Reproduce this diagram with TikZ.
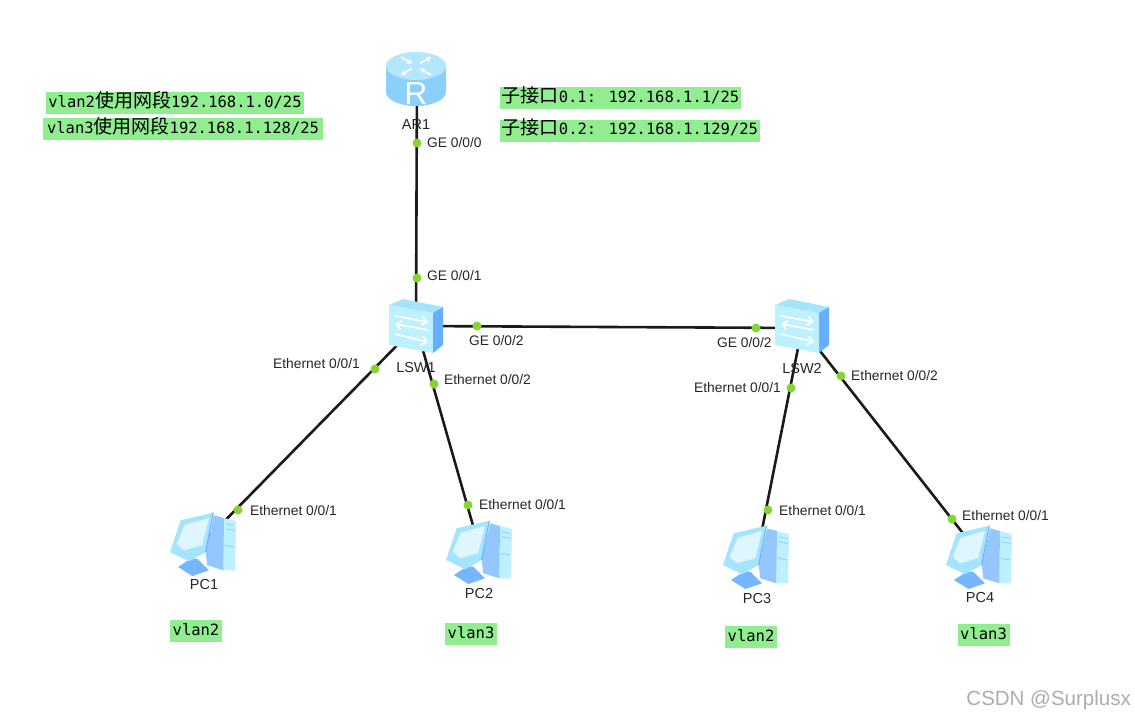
\documentclass[tikz,border=0pt]{standalone}
\usepackage{fontspec}
\setmainfont{Liberation Sans}
\newfontfamily\monofont{DejaVu Sans Mono}
\newfontfamily\cjk{Noto Sans CJK SC}
\usetikzlibrary{arrows.meta,positioning}
\definecolor{hlgreen}{HTML}{90EE90}
\definecolor{portgreen}{HTML}{84D62E}
\definecolor{linkblack}{HTML}{1A1A1A}
\definecolor{iconfront}{HTML}{BDF1FF}
\definecolor{icontop}{HTML}{A5E4FF}
\definecolor{iconside}{HTML}{66AFFF}
\definecolor{routerbody}{HTML}{8AD0FB}
\definecolor{routertop}{HTML}{B5E6FF}
\tikzset{
  link/.style={draw=linkblack, line width=2.6pt},
  port/.style={circle, fill=portgreen, inner sep=0pt, minimum size=9pt},
  portlabel/.style={anchor=west, inner sep=0pt, text=black!85, font=\fontsize{13.8}{15}\selectfont},
  devlabel/.style={inner sep=0pt, text=black!85, font=\fontsize{14.5}{16}\selectfont},
  hlbox/.style={fill=hlgreen, inner sep=0pt, minimum height=22pt, text height=8pt, text depth=0pt,
    font=\monofont\fontsize{15.5}{18}\selectfont},
  routericon/.pic={
    \path[fill=routerbody] (-30,-12) -- (-30,14) arc[start angle=180, end angle=0, x radius=30, y radius=14]
      -- (30,-12) -- cycle;
    \path[fill=routertop] (0,-12) ellipse[x radius=30, y radius=14];
    \foreach \ax/\ay/\bx/\by in {4/-14.5/15/-21, -4/-9.5/-15/-3, -15/-21/-4/-14.5, 15/-3/4/-9.5} {
      \draw[white, line width=1.6pt, -{Stealth[length=5pt,width=6pt]}] (\ax,\ay) -- (\bx,\by);
    }
    \node[inner sep=0pt, text=white, font=\fontsize{32}{32}\selectfont] (rletter) at (0,15) {R};
  },
  switchicon/.pic={
    \path[fill=iconfront] (-27,-21) -- (17,-13) -- (17,27) -- (-27,19) -- cycle;
    \path[fill=icontop] (-27,-21) -- (-13,-27) -- (27,-19) -- (17,-13) -- cycle;
    \path[fill=iconside] (17,-13) -- (27,-19) -- (27,19) -- (17,27) -- cycle;
    \draw[white, line width=1.8pt, -{Straight Barb[length=5pt,width=9pt]}] (-21,-10) -- (12,-4);
    \draw[white, line width=1.8pt, -{Straight Barb[length=5pt,width=9pt]}] (12,4) -- (-21,-2);
    \draw[white, line width=1.8pt, -{Straight Barb[length=5pt,width=9pt]}] (-21,8) -- (12,16);
  },
  pcicon/.pic={
    \path[fill=iconfront] (20,-24) -- (32,-21) -- (31,28.3) -- (19.3,28.3) -- cycle;
    \path[fill=iconside!70] (10,-26.7) -- (20,-24) -- (19.3,28.3) -- (3.3,23.3) -- (1.7,10) -- cycle;
    \path[fill=iconside!90] (-26,25) -- (-13.3,16.7) -- (-6.7,16.7) -- (5,28.3) -- (-11.7,34) -- cycle;
    \path[fill=icontop] (-34,10) -- (-23.3,-21.7) -- (9.3,-29.3) -- (1.7,10) -- (-15,19.3) -- cycle;
    \path[fill=white!65!icontop] (-27.3,1.7) -- (-19.3,-17.3) -- (5,-24) -- (-1.7,3.3) -- (-20,8.3) -- cycle;
    \draw[iconside, line width=1pt] (9.3,-29.3) -- (1.7,10);
    \draw[iconside!70, line width=0.8pt] (21.7,-18.3) -- (30,-16.5) (21.7,-13.3) -- (30,-11.5) (21,3.3) -- (30,5);
  }
}
\begin{document}
\begin{tikzpicture}[x=1pt, y=-1pt]
  \useasboundingbox[fill=white] (0,0) rectangle (1135,720);
  \coordinate (ar1) at (417,78);
  \coordinate (lsw1) at (416,326);
  \coordinate (lsw2) at (802,328);
  \coordinate (pc1) at (204,542);
  \coordinate (pc2) at (480,550);
  \coordinate (pc3) at (757,555);
  \coordinate (pc4) at (980,555);
  % links run under the icons
  \draw[link] (ar1) -- (lsw1);
  \draw[link] (lsw1) -- (lsw2);
  \draw[link] (lsw1) -- (pc1);
  \draw[link] (lsw1) -- (pc2);
  \draw[link] (lsw2) -- (pc3);
  \draw[link] (lsw2) -- (pc4);
  \pic at (416,78) {routericon};
  \pic at (lsw1) {switchicon};
  \pic at (802,326) {switchicon};
  \foreach \p in {pc1,pc2,pc3,pc4} {
    \pic at (\p) {pcicon};
  }
  \foreach \n/\x/\y/\t in {nar1/416/125/AR1,nlsw1/416/368/LSW1,nlsw2/802/369/LSW2,
      npc1/204/585/PC1,npc2/479/594/PC2,npc3/757/599/PC3,npc4/980/598/PC4} {
    \node[devlabel] (\n) at (\x,\y) {\t};
  }
  % ports: dot, then its label
  \foreach \n/\x/\y/\lx/\ly/\t in {
      a/417/143/427/143/{GE 0/0/0},
      b/417/278/427/276/{GE 0/0/1},
      c/477/326/469/341/{GE 0/0/2},
      d/756/328/717/343/{GE 0/0/2},
      e/375/369/273/364/{Ethernet 0/0/1},
      f/434/384/444/380/{Ethernet 0/0/2},
      g/238/510/250/511/{Ethernet 0/0/1},
      h/468/505/479/505/{Ethernet 0/0/1},
      i/791/388/694/388/{Ethernet 0/0/1},
      j/841/376/851/376/{Ethernet 0/0/2},
      k/768/510/779/511/{Ethernet 0/0/1},
      l/952/519/962/516/{Ethernet 0/0/1}} {
    \node[port] (port\n) at (\x,\y) {};
    \node[portlabel] (label\n) at (\lx,\ly) {\t};
  }
  \node[hlbox, minimum width=258pt] (net2) at (175,103) {vlan2{\cjk\fontsize{19}{19}\selectfont 使用网段}192.168.1.0/25};
  \node[hlbox, minimum width=280pt] (net3) at (183,129) {vlan3{\cjk\fontsize{19}{19}\selectfont 使用网段}192.168.1.128/25};
  \node[hlbox, minimum width=241pt] (sub1) at (620.5,98) {{\cjk\fontsize{19}{19}\selectfont 子接口}0.1: 192.168.1.1/25};
  \node[hlbox, minimum width=260pt] (sub2) at (630,130.5) {{\cjk\fontsize{19}{19}\selectfont 子接口}0.2: 192.168.1.129/25};
  \foreach \n/\x/\y/\t in {va/196/631/vlan2,vb/471/634/vlan3,vc/751/637/vlan2,vd/983.5/635/vlan3} {
    \node[hlbox, minimum width=52pt] (\n) at (\x,\y) {\t};
  }
  \node[anchor=east, inner sep=0pt, text=black!32, font=\fontsize{20.5}{22}\selectfont] (mark) at (1131,700) {CSDN @Surplusx};
\end{tikzpicture}
\end{document}
